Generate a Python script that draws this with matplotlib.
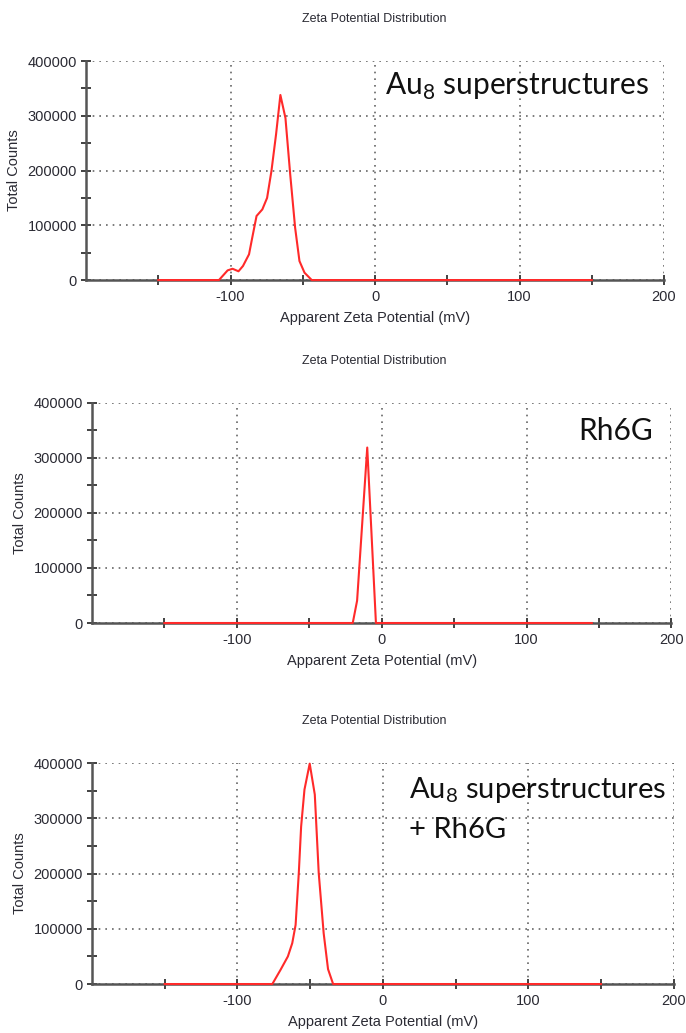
import matplotlib.pyplot as plt

plt.rcParams['font.family'] = ['Liberation Sans', 'DejaVu Sans']

# zeta potential (mV) vs total counts
au_x = [-150, -108, -102, -98.6, -94.5, -91.4, -87.2, -85, -82, -78, -74.7, -71.7,
        -68.5, -65.5, -62, -58.7, -55.3, -52.3, -48.8, -43.8, 150]
au_y = [0, 0, 17700, 20600, 16000, 25600, 47000, 77000, 117000, 129000, 150000, 199000,
        266000, 338000, 296000, 193000, 95500, 34700, 13400, 0, 0]

rh_x = [-150, -20, -17, -10, -4, 145]
rh_y = [0, 0, 40600, 319000, 0, 0]

mix_x = [-150, -76, -70.3, -65.3, -62.3, -60, -57.8, -56.2, -53.9, -50.3, -46.8,
         -44.1, -40.7, -37.7, -34.2, 150]
mix_y = [0, 0, 26000, 50000, 74000, 107000, 201000, 285000, 352000, 399000, 343000,
         201000, 92000, 27000, 0, 0]

x_ticks = [-100, 0, 100, 200]
x_minor = [-150, -50, 50, 150]
y_ticks = [0, 100000, 200000, 300000, 400000]
y_minor = [50000, 150000, 250000, 350000]

title = 'Zeta Potential Distribution'
xlab = 'Apparent Zeta Potential (mV)'
ylab = 'Total Counts'

fig = plt.figure(figsize=(6.86, 10.33), dpi=100)

panels = [
    # rect, x, y, label lines, label pos (px), label size
    ([0.1254, 0.7289, 0.8426, 0.2120], au_x, au_y,
     [r'Au$_\mathregular{8}$ superstructures'], (385, 95), 21.5),
    ([0.1341, 0.3969, 0.8447, 0.2130], rh_x, rh_y,
     ['Rh6G'], (578, 440), 21.5),
    ([0.1341, 0.0474, 0.8480, 0.2139], mix_x, mix_y,
     [r'Au$_\mathregular{8}$ superstructures', '+ Rh6G'], (409, 798), 21),
]

txt_col = '#2a2a33'
W, H = 686, 1033

for rect, xs, ys, lines, (lx, ly), fs in panels:
    ax = fig.add_axes(rect)
    ax.set_xlim(-200, 200)
    ax.set_ylim(0, 400000)
    ax.set_xticks(x_ticks)
    ax.set_xticklabels([str(v) for v in x_ticks])
    ax.set_xticks(x_minor, minor=True)
    ax.set_yticks(y_ticks)
    ax.set_yticklabels([str(v) for v in y_ticks])
    ax.set_yticks(y_minor, minor=True)
    ax.grid(True, which='major', color='#666666', linestyle=(0, (1, 3)), lw=1.2)
    for s in ['top', 'right']:
        ax.spines[s].set_visible(False)
    for s in ['left', 'bottom']:
        ax.spines[s].set_color('#555555')
        ax.spines[s].set_linewidth(1.8)
    ax.tick_params(which='both', direction='inout', length=7, width=1.3,
                   color='#333333', labelsize=10.5, labelcolor=txt_col, pad=3)
    ax.tick_params(axis='x', pad=4)
    ax.plot(xs, ys, color='#ff2a2a', lw=1.5, zorder=5, clip_on=False)
    ax.set_xlabel(xlab, fontsize=10.5, color=txt_col, labelpad=5)
    ax.set_ylabel(ylab, fontsize=10.5, color=txt_col, labelpad=5)

    top_px = H * (1 - (rect[1] + rect[3]))
    fig.text(0.545, 1 - (top_px - 42) / H, title, ha='center', va='center',
             fontsize=9, color=txt_col)

    for i, line in enumerate(lines):
        fig.text(lx / W, 1 - (ly + i * 40) / H, line, ha='left', va='baseline',
                 fontsize=fs, family=['Lato', 'DejaVu Sans'], color='#111111')

fig.savefig('out.png', dpi=100)
